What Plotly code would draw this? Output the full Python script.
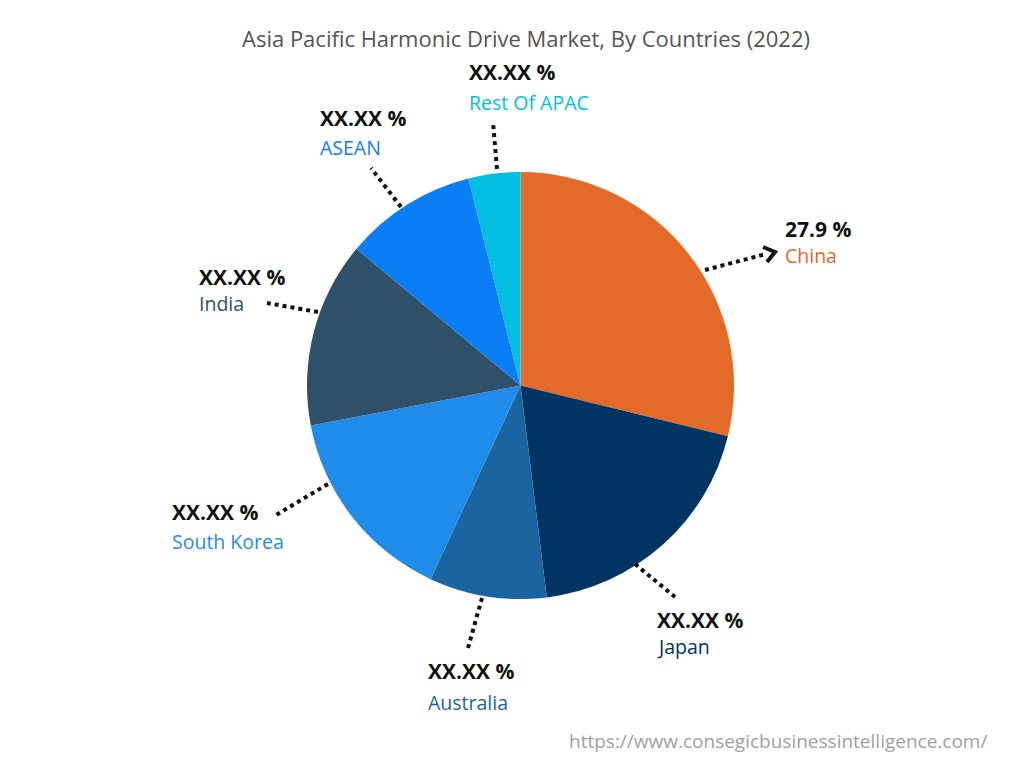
import plotly.graph_objects as go

# ---- data ----
countries = ["China", "Japan", "Australia", "South Korea", "India", "ASEAN", "Rest Of APAC"]
shares = [27.9, 18.6, 8.6, 14.6, 13.6, 9.7, 3.8]
value_labels = ["27.9 %", "XX.XX %", "XX.XX %", "XX.XX %", "XX.XX %", "XX.XX %", "XX.XX %"]
colors = ["#E36A28", "#003462", "#1A64A0", "#1E8CE8", "#2E5068", "#0A7EF6", "#00BFE0"]

title = "Asia Pacific Harmonic Drive Market, By Countries (2022)"
source = "https://www.consegicbusinessintelligence.com/"

W, H = 1024, 768
OFF = 8  # page body margin
cx, cy, r = 520.5 - OFF, 385.5 - OFF, 213.5
FONT = "Open Sans"

fig = go.Figure()
fig.add_trace(go.Pie(
    labels=countries, values=shares, sort=False, direction="clockwise", rotation=0,
    marker=dict(colors=colors, line=dict(width=0)),
    textinfo="none", hoverinfo="label+percent", showlegend=False,
    domain=dict(x=[(cx - r) / W, (cx + r) / W], y=[(H - cy - r) / H, (H - cy + r) / H]),
))

# label placement (layout positions, page pixel space)
label_pos = {
    "China": (783, 229, 255),
    "Japan": (655, 620, 646),
    "Australia": (426, 671, 702),
    "South Korea": (170, 512, 541),
    "India": (197, 277, 303),
    "ASEAN": (318, 118, 147),
    "Rest Of APAC": (467, 72, 102),
}
leader = {
    "China": ((705, 270), (766, 254)),
    "Japan": ((635, 564), (675, 597)),
    "Australia": ((482, 598), (468, 648)),
    "South Korea": ((328, 484), (276, 515)),
    "India": ((318, 312), (267, 303)),
    "ASEAN": ((401, 207), (371, 168)),
    "Rest Of APAC": ((497, 169), (493, 122)),
}

annotations = []
shapes = []
for name, val, col in zip(countries, value_labels, colors):
    x, yv, yl = label_pos[name]
    annotations.append(dict(x=x, y=yv, xref="x", yref="y", text="<b>" + val + "</b>",
                            showarrow=False, xanchor="left", yanchor="middle",
                            font=dict(family=FONT, size=21, color="#111111")))
    annotations.append(dict(x=x, y=yl, xref="x", yref="y", text=name,
                            showarrow=False, xanchor="left", yanchor="middle",
                            font=dict(family=FONT, size=19.5, color=col)))
    (x0, y0), (x1, y1) = leader[name]
    shapes.append(dict(type="line", x0=x0, y0=y0, x1=x1, y1=y1, xref="x", yref="y",
                       line=dict(color="#111111", width=4, dash="dot")))

# arrow head for China
shapes.append(dict(type="path", path="M 763,247 L 775,252 L 767,262", xref="x", yref="y",
                   line=dict(color="#111111", width=4)))

annotations.append(dict(x=526, y=38, xref="x", yref="y", text=title, showarrow=False,
                        xanchor="center", yanchor="middle",
                        font=dict(family=FONT, size=22, color="#555555")))
annotations.append(dict(x=567, y=741, xref="x", yref="y", text=source, showarrow=False,
                        xanchor="left", yanchor="middle",
                        font=dict(family=FONT, size=19, color="#A0A0A0")))

fig.update_layout(
    width=W, height=H, margin=dict(l=0, r=0, t=0, b=0),
    paper_bgcolor="white", plot_bgcolor="rgba(0,0,0,0)",
    xaxis=dict(range=[OFF, W + OFF], visible=False, fixedrange=True),
    yaxis=dict(range=[H + OFF, OFF], visible=False, fixedrange=True),
    annotations=annotations, shapes=shapes,
)

fig.write_html("out.html")
